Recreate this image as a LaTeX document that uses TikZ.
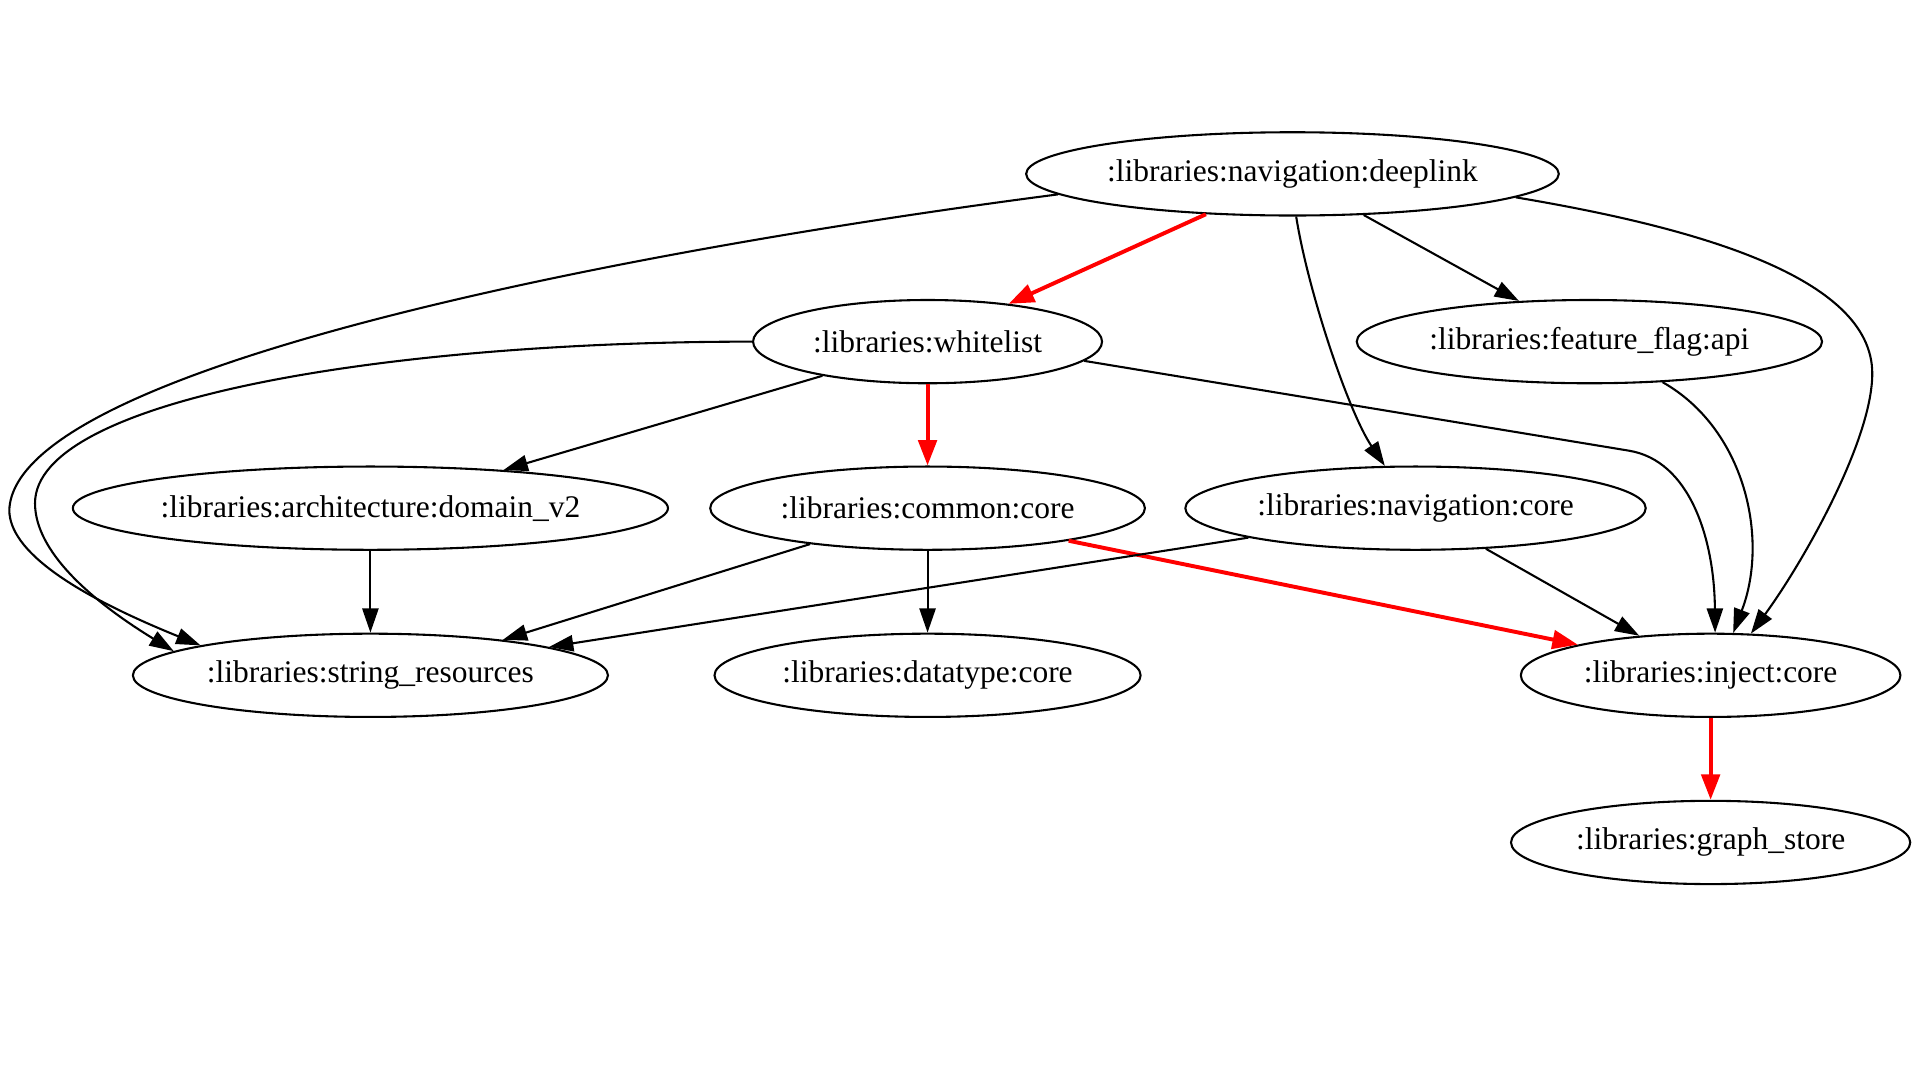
\documentclass[tikz,border=0pt]{standalone}
\usepackage{fontspec}
\setmainfont{Liberation Serif}
\usetikzlibrary{shapes.geometric,arrows.meta}
\tikzset{
  nd/.style={draw, ellipse, line width=0.9pt, inner sep=0pt, minimum height=68*0.529pt,
    font=\fontsize{13.6}{16}\selectfont},
  w/.style={minimum width=#1*0.529pt},
  ed/.style={line width=0.9pt, -{Triangle[length=10.5pt,width=7pt]}},
  rd/.style={line width=1.7pt, red, -{Triangle[length=11pt,width=8pt]}}
}
\begin{document}
\begin{tikzpicture}[x=0.529pt, y=-0.529pt]
\useasboundingbox (0,0) rectangle (1568,882);
\node[nd, w=435] (deeplink) at (1055.5,142) {:libraries:navigation:deeplink};
\node[nd, w=285] (whitelist) at (757.5,279) {:libraries:whitelist};
\node[nd, w=380] (ffapi) at (1298,279) {:libraries:feature\_flag:api};
\node[nd, w=486] (domain) at (302.5,415) {:libraries:architecture:domain\_v2};
\node[nd, w=355] (common) at (757.5,415) {:libraries:common:core};
\node[nd, w=376] (navcore) at (1156,415) {:libraries:navigation:core};
\node[nd, w=388] (strres) at (302.5,551.5) {:libraries:string\_resources};
\node[nd, w=348] (datatype) at (757.5,551.5) {:libraries:datatype:core};
\node[nd, w=310] (inject) at (1397,551.5) {:libraries:inject:core};
\node[nd, w=326] (graphstore) at (1397,688) {:libraries:graph\_store};

\draw[ed] (deeplink.185) .. controls (515,204) and (12,300) .. (7.6,416.5)
  .. controls (7.6,450) and (60,485) .. (strres.170);
\draw[rd] (deeplink.205) -- (whitelist.25);
\draw[ed] (deeplink.275) .. controls (1068,237) and (1101,336) .. (navcore.126);
\draw[ed] (deeplink.330) -- (ffapi.150);
\draw[ed] (deeplink.354) .. controls (1380,185) and (1529,225) .. (1529,305)
  .. controls (1529,360) and (1472,460) .. (inject.46);
\draw[ed] (whitelist.180) .. controls (315,279) and (28.6,326) .. (28.6,411)
  .. controls (28.6,450) and (73.6,490) .. (strres.173);
\draw[ed] (whitelist.198) -- (domain.16);
\draw[rd] (whitelist.south) -- (common.north);
\draw[ed] (whitelist.353) -- (1330,368) .. controls (1380,376) and (1400,440) .. (inject.84);
\draw[ed] (ffapi.331) .. controls (1425,350) and (1445,440) .. (inject.62);
\draw[ed] (domain.south) -- (strres.north);
\draw[ed] (common.197) -- (strres.15);
\draw[ed] (common.south) -- (datatype.north);
\draw[rd] (common.347) -- (inject.167);
\draw[ed] (navcore.190) -- (strres.9);
\draw[ed] (navcore.330) -- (inject.151);
\draw[rd] (inject.south) -- (graphstore.north);
\end{tikzpicture}
\end{document}
